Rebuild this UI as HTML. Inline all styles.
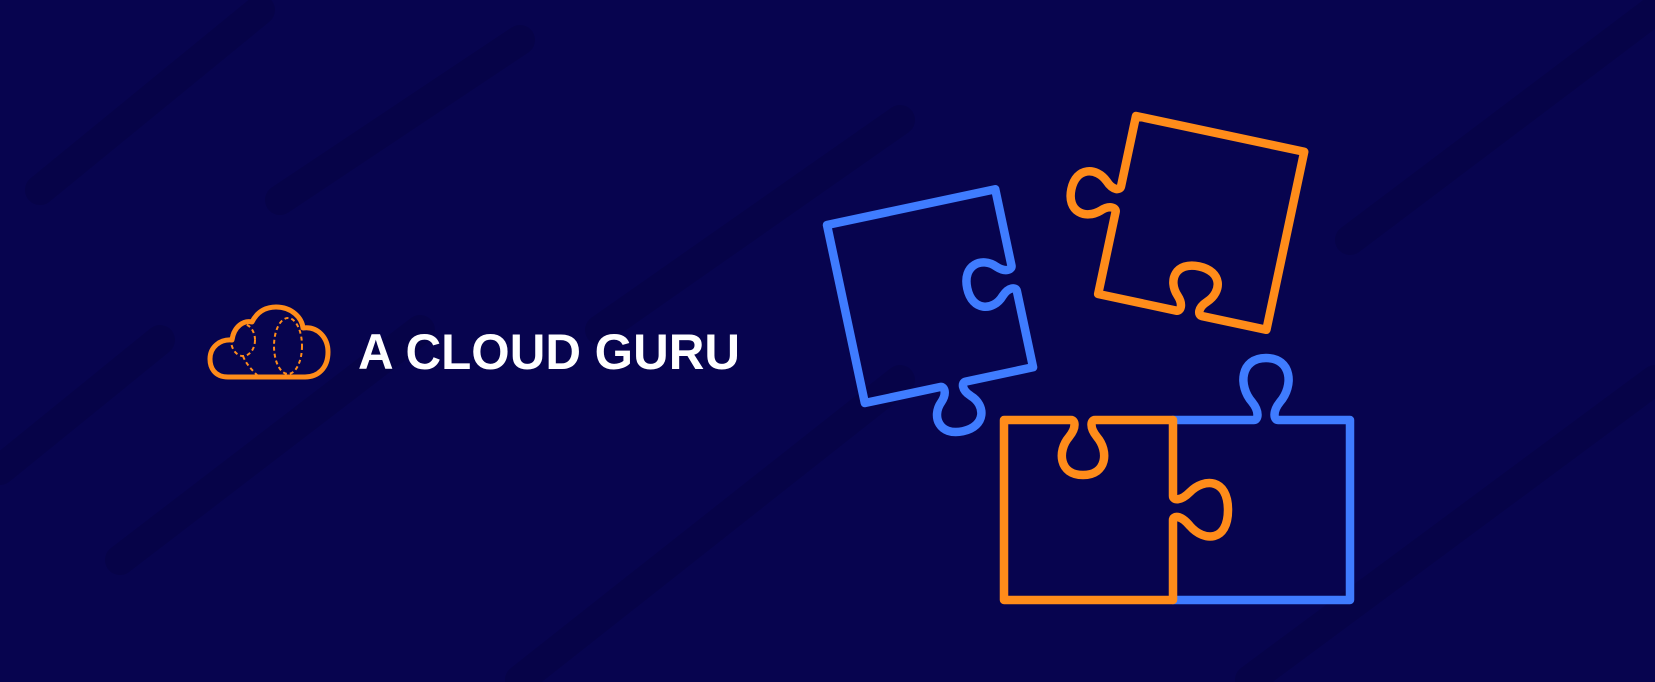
<!DOCTYPE html>
<html><head><meta charset="utf-8"><style>
html,body{margin:0;padding:0;background:#07044f;}
svg{display:block}
</style></head><body>
<svg width="1655" height="682" viewBox="0 0 1655 682" xmlns="http://www.w3.org/2000/svg">
<rect width="1655" height="682" fill="#07044f"/>
<g stroke="#03022e" stroke-width="30" stroke-linecap="round" opacity="0.2" fill="none">
<path d="M40,190 L260,10"/><path d="M120,560 L420,330"/><path d="M280,200 L520,40"/>
<path d="M520,680 L900,380"/><path d="M1250,680 L1655,380"/><path d="M1350,240 L1655,10"/>
<path d="M600,330 L900,120"/><path d="M0,470 L160,340"/>
</g>
<g fill="none" stroke-linejoin="round" stroke-linecap="round" stroke-width="8.5">
<!-- blue left piece -->
<g transform="translate(827,225) rotate(-12)" stroke="#3f7cff">
<path d="M0,0 L172,0 L172,78 C172,82 165,84 157,76 C145,63 124,67 124,91 C124,115 145,119 157,106 C165,98 172,100 172,104 L172,182 L103,182 C99,182 97,189 105,197 C118,209 114,230 90,230 C66,230 62,209 75,197 C83,189 81,182 77,182 L0,182 Z"/>
</g>
<!-- orange top piece -->
<g transform="translate(1136,116) rotate(12)" stroke="#ff8c1a">
<path d="M0,0 L172,0 L172,182 L106,182 C102,182 100,175 108,167 C121,154 117,134 93,134 C69,134 65,154 78,167 C86,175 84,182 80,182 L0,182 L0,98 C0,94 -7,92 -15,100 C-28,112 -48,108 -48,85 C-48,62 -28,58 -15,70 C-7,78 0,76 0,72 Z"/>
</g>
<!-- blue right piece -->
<path stroke="#3f7cff" d="M1173,420 L1254,420 C1258,420 1260,412 1252,402 C1238,386 1240,358 1266,358 C1292,358 1294,386 1280,402 C1272,412 1274,420 1278,420 L1350,420 L1350,600 L1173,600"/>
<!-- orange bottom piece -->
<path stroke="#ff8c1a" d="M1004,420 L1071,420 C1075,420 1077,427 1069,437 C1057,451 1059,475 1083,475 C1107,475 1109,451 1097,437 C1089,427 1091,420 1095,420 L1173,420 L1173,496 C1173,500 1180,502 1190,492 C1204,478 1228,478 1228,510 C1228,542 1204,542 1190,526 C1180,514 1173,516 1173,520 L1173,600 L1004,600 Z"/>
</g>
<!-- cloud logo -->
<g fill="none" stroke="#ff8c1a">
<path stroke-width="5" stroke-linejoin="round" d="M228,377 C214,377 210,367 210,359 C210,347 220,339 232,340 C234,326 244,320 252,322 C258,310 268,307 276,307 C292,307 302,318 303,328 C318,326 328,338 328,352 C328,368 318,377 305,377 Z"/>
<g stroke-width="2" stroke-dasharray="4 3">
<ellipse cx="243" cy="340" rx="12" ry="16"/>
<path d="M243,356 C246,364 252,370 258,376"/>
<ellipse cx="288" cy="346" rx="14" ry="28"/>
</g>
</g>
<text x="358" y="369" fill="#ffffff" font-family="Liberation Sans, sans-serif" font-weight="bold" font-size="50" textLength="382" lengthAdjust="spacingAndGlyphs">A CLOUD GURU</text>
</svg>
</body></html>
